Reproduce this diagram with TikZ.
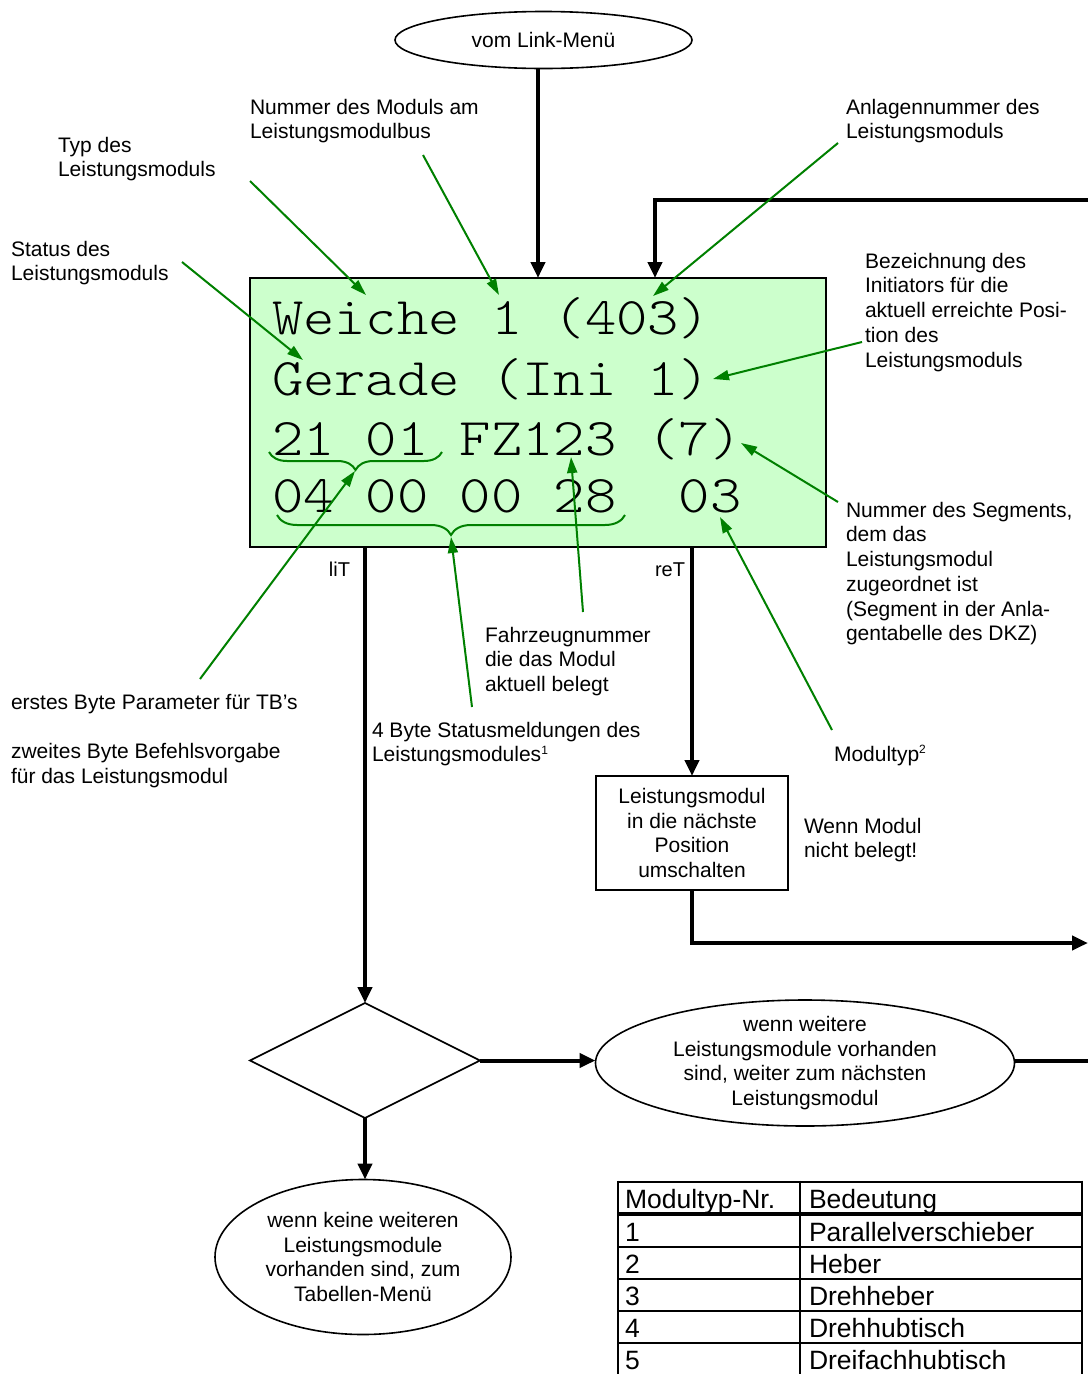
\documentclass[tikz,border=0pt]{standalone}
\usepackage{fontspec}
\setmainfont{Liberation Sans}
\newfontfamily\lcdfont{Latin Modern Mono Light}[FakeStretch=1.125]
\usetikzlibrary{arrows.meta,shapes.geometric,decorations.pathreplacing}
\definecolor{notegreen}{RGB}{0,128,0}
\definecolor{lcdgreen}{RGB}{204,255,204}
\newcommand{\bodyfont}{\fontsize{21}{24.7}\selectfont}
\newcommand{\tabfont}{\fontsize{26.5}{30}\selectfont}
\newcommand{\lcdsize}{\fontsize{53}{60}\selectfont}

\begin{document}
\begin{tikzpicture}[x=1pt,y=-1pt,
  every node/.style={inner sep=0pt, outer sep=0pt},
  lbl/.style={font=\bodyfont, align=left, anchor=north west},
  lcdrow/.style={font=\lcdfont\lcdsize, anchor=base west},
  term/.style={ellipse, draw, line width=1.6pt, align=center, font=\bodyfont, inner ysep=-8pt},
  flow/.style={line width=4pt, -{Triangle[length=16pt,width=14pt]}},
  flowline/.style={line width=4pt},
  note/.style={draw=notegreen, line width=2pt, -{Triangle[length=16pt,width=10pt]}},
  curly/.style={draw=notegreen, line width=2pt, decorate, decoration={brace, amplitude=#1}},
  tabline/.style={line width=2.6pt},
  tiny/.style={font=\fontsize{20}{22}\selectfont, anchor=base east},
  cell/.style={font=\tabfont, anchor=base west},
]
\useasboundingbox (0,0) rectangle (1088,1374);

% ---------- flow chart elements ----------
\node[term, minimum width=297, minimum height=57] (start) at (543.5,40) {vom Link-Menü};

\node[draw, fill=lcdgreen, line width=2pt, minimum width=576, minimum height=269, anchor=north west] (lcd) at (250,278) {};
\node[lcdrow] (row1) at (272,334) {Weiche 1 (403)};
\node[lcdrow] (row2) at (272,395) {Gerade (Ini 1)};
\node[lcdrow] (row3) at (272,455) {21 01 FZ123 (7)};
\node[lcdrow] (row4) at (272,512) {04 00 00 28\ \ 03};

\node[draw, line width=1.6pt, minimum width=192, minimum height=114, align=center, font=\bodyfont] (act) at (692,833)
  {Leistungsmodul\\in die nächste\\Position\\umschalten};

\node[diamond, draw, line width=1.6pt, minimum width=230, minimum height=115] (dec) at (365,1060.5) {};

\node[term, minimum width=419, minimum height=126] (more) at (805,1063)
  {wenn weitere\\Leistungsmodule vorhanden\\sind, weiter zum nächsten\\Leistungsmodul};
\node[term, minimum width=296, minimum height=155] (fin) at (363,1257)
  {wenn keine weiteren\\Leistungsmodule\\vorhanden sind, zum\\Tabellen-Menü};

% ---------- flow connectors ----------
\coordinate (inx) at (538,0);
\coordinate (loopR) at (1088,200);
\coordinate (loopx) at (655,0);
\coordinate (outR) at (1088,943);
\coordinate (moreR) at (1088,1060.5);

\draw[flow] (start.south -| inx) -- (lcd.north -| inx);
\draw[flow] (loopR) -| (lcd.north -| loopx);
\draw[flow] (lcd.south -| dec.north) -- (dec.north);
\draw[flow] (lcd.south -| act.north) -- (act.north);
\draw[flow] (act.south) |- (outR);
\draw[flow] (dec.east) -- (dec.east -| more.west);
\draw[flowline] (more.east |- moreR) -- (moreR);
\draw[flow] (dec.south) -- (dec.south |- fin.north);

\node[tiny] (lit) at (350,576) {liT};
\node[tiny] (ret) at (685,576) {reT};

% ---------- braces under the display digits ----------
\draw[curly=18pt] (442,452) -- (269,452);
\draw[curly=20pt] (625,515) -- (277,515);
\coordinate (b1tip) at (355,471);
\coordinate (b2tip) at (451,537);

% ---------- annotation labels ----------
\node[lbl] (nrbus) at (250,99) {Nummer des Moduls am\\Leistungsmodulbus};
\node[lbl] (typ) at (58,137) {Typ des\\Leistungsmoduls};
\node[lbl] (status) at (11,241) {Status des\\Leistungsmoduls};
\node[lbl] (anlnr) at (846,99) {Anlagennummer des\\Leistungsmoduls};
\node[lbl] (ini) at (865,253) {Bezeichnung des\\Initiators für die\\aktuell erreichte Posi-\\tion des\\Leistungsmoduls};
\node[lbl] (seg) at (846,502) {Nummer des Segments,\\dem das\\Leistungsmodul\\zugeordnet ist\\(Segment in der Anla-\\gentabelle des DKZ)};
\node[lbl] (fz) at (485,627) {Fahrzeugnummer\\die das Modul\\aktuell belegt};
\node[lbl] (bytes) at (11,694) {erstes Byte Parameter für TB’s\\[24.7pt]zweites Byte Befehlsvorgabe\\für das Leistungsmodul};
\node[lbl] (stat4) at (372,722) {4 Byte Statusmeldungen des\\Leistungsmodules\textsuperscript{\fontsize{12}{12}\selectfont 1}};
\node[font=\bodyfont, anchor=base west] (mtyp) at (834,761.5) {Modultyp\textsuperscript{\fontsize{12}{12}\selectfont 2}};
\node[lbl] (frei) at (804,818) {Wenn Modul\\nicht belegt!};

% ---------- annotation arrows ----------
\coordinate (typS) at (250,181);    \coordinate (typE) at (366,295);
\coordinate (nrS) at (423,155);     \coordinate (nrE) at (499,295);
\coordinate (anlS) at (838,143);    \coordinate (anlE) at (653,296);
\coordinate (stS) at (182,262);     \coordinate (stE) at (303,360);
\coordinate (iniS) at (862,342);    \coordinate (iniE) at (713,379);
\coordinate (segS) at (838,502);    \coordinate (segE) at (741,443);
\coordinate (mtS) at (832,730);     \coordinate (mtE) at (720,517);
\coordinate (fzS) at (583,612);     \coordinate (fzE) at (571,457);
\coordinate (s4S) at (472,707);
\coordinate (byS) at (200,679);

\draw[note] (typS) -- (typE);
\draw[note] (nrS) -- (nrE);
\draw[note] (anlS) -- (anlE);
\draw[note] (stS) -- (stE);
\draw[note] (iniS) -- (iniE);
\draw[note] (segS) -- (segE);
\draw[note] (mtS) -- (mtE);
\draw[note] (fzS) -- (fzE);
\draw[note] (s4S) -- (b2tip);
\draw[note] (byS) -- (b1tip);

% ---------- table of module types ----------
\draw[tabline] (618,1182) -- (1082,1182);
\draw[line width=4pt] (618,1214) -- (1082,1214);
\foreach \yy in {1247,1279,1311,1343} \draw[tabline] (618,\yy) -- (1082,\yy);
\draw[tabline] (618,1180.7) -- (618,1376);
\draw[tabline] (800,1180.7) -- (800,1376);
\draw[tabline] (1082,1180.7) -- (1082,1376);

\node[cell] (h1) at (625,1208) {Modultyp-Nr.};
\node[cell] (h2) at (809,1208) {Bedeutung};
\node[cell] (n1) at (625,1241) {1};
\node[cell] (d1) at (809,1241) {Parallelverschieber};
\node[cell] (n2) at (625,1273) {2};
\node[cell] (d2) at (809,1273) {Heber};
\node[cell] (n3) at (625,1305) {3};
\node[cell] (d3) at (809,1305) {Drehheber};
\node[cell] (n4) at (625,1337) {4};
\node[cell] (d4) at (809,1337) {Drehhubtisch};
\node[cell] (n5) at (625,1369) {5};
\node[cell] (d5) at (809,1369) {Dreifachhubtisch};
\end{tikzpicture}
\end{document}
